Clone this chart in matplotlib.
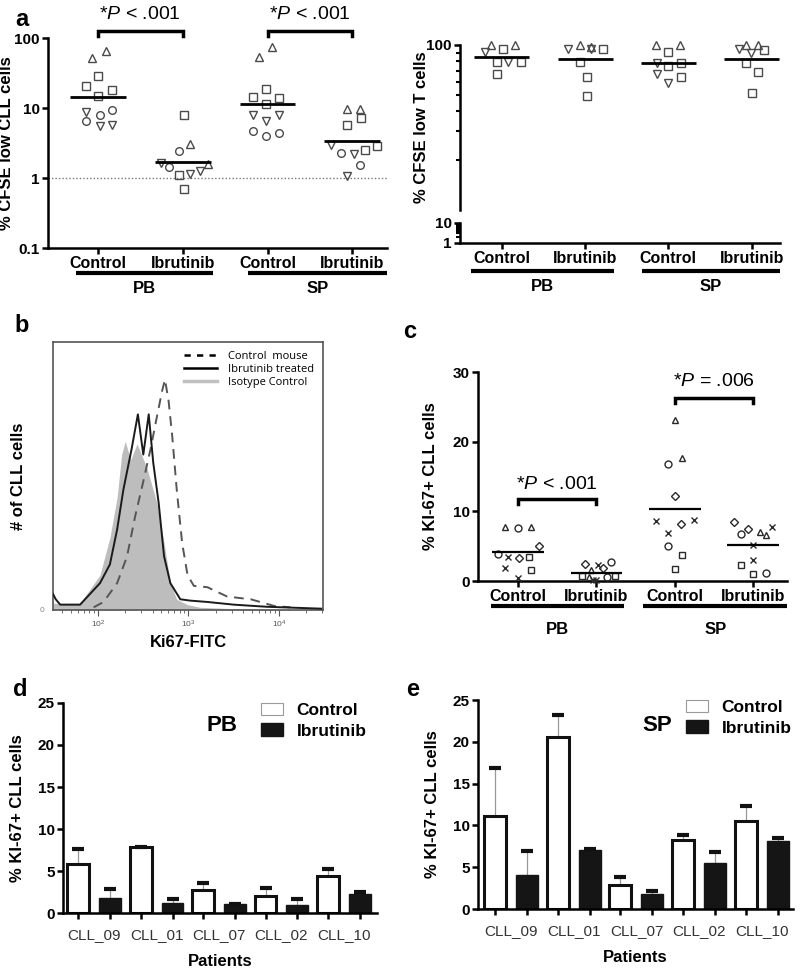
"""
Ibrutinib / CLL proliferation figure: panels a-e
"""

import matplotlib
matplotlib.use('Agg')
import matplotlib.pyplot as plt
import matplotlib.transforms as mtransforms
from matplotlib.patches import Patch
from matplotlib.lines import Line2D
import numpy as np

plt.rcParams['font.family'] = ['Liberation Sans', 'DejaVu Sans']
plt.rcParams['mathtext.fontset'] = 'custom'
plt.rcParams['mathtext.it'] = 'Liberation Sans:italic'
plt.rcParams['mathtext.rm'] = 'Liberation Sans'

W, H = 800, 971

# ---------------- data ----------------
categories = ['Control', 'Ibrutinib', 'Control', 'Ibrutinib']
tissues = ['PB', 'SP']

# panel a, CLL cells (% CFSE low); shape code = patient symbol
cll_vals = [
    [51.8, 64.5, 28.3, 20.8, 17.9, 15.0, 8.7, 9.5, 8.0, 6.5, 5.6, 5.75],
    [7.9, 3.1, 2.4, 1.64, 1.44, 1.58, 1.12, 1.15, 1.24, 0.70],
    [53.5, 74.0, 18.7, 14.4, 13.9, 11.5, 8.0, 8.0, 6.5, 4.7, 4.4, 3.94],
    [9.8, 9.8, 7.2, 5.8, 3.0, 2.9, 2.5, 2.3, 2.2, 1.52, 1.06],
]
cll_shapes = [
    ['tu', 'tu', 'sq', 'sq', 'sq', 'sq', 'td', 'ci', 'ci', 'ci', 'td', 'td'],
    ['sq', 'tu', 'ci', 'td', 'ci', 'tu', 'sq', 'td', 'td', 'sq'],
    ['tu', 'tu', 'sq', 'sq', 'sq', 'sq', 'td', 'td', 'td', 'ci', 'ci', 'ci'],
    ['tu', 'tu', 'sq', 'sq', 'td', 'sq', 'sq', 'ci', 'td', 'ci', 'td'],
]
cll_jitter = [
    [-0.07, 0.09, 0.0, -0.14, 0.17, 0.0, -0.14, 0.17, 0.02, -0.14, 0.02, 0.17],
    [0.01, 0.09, -0.05, -0.26, -0.16, 0.30, -0.04, 0.08, 0.20, 0.02],
    [-0.10, 0.05, -0.02, -0.17, 0.13, -0.02, -0.17, 0.13, -0.02, -0.17, 0.13, -0.02],
    [-0.06, 0.09, 0.10, -0.06, -0.25, 0.29, 0.15, -0.13, 0.02, 0.09, -0.06],
]
cll_means = [14.2, 1.69, 11.4, 3.4]

# panel a, T cells (% CFSE low)
t_vals = [
    [100, 100, 90.3, 94, 79, 78.6, 79, 66.4],
    [94.6, 100, 97.5, 95, 94, 79, 63.7, 49.1],
    [100, 100, 91, 77.5, 74.6, 78, 66.7, 59.1, 63.7],
    [94.6, 100, 100, 89, 93.3, 78, 68.3, 51.4],
]
t_shapes = [
    ['tu', 'tu', 'td', 'sq', 'sq', 'td', 'sq', 'sq'],
    ['td', 'tu', 'tu', 'td', 'sq', 'sq', 'sq', 'sq'],
    ['tu', 'tu', 'sq', 'td', 'sq', 'sq', 'td', 'td', 'sq'],
    ['td', 'tu', 'tu', 'td', 'sq', 'sq', 'sq', 'sq'],
]
t_jitter = [
    [-0.13, 0.16, -0.20, 0.02, -0.06, 0.08, 0.23, -0.06],
    [-0.20, -0.06, 0.07, 0.07, 0.22, -0.06, 0.02, 0.02],
    [-0.15, 0.14, 0.0, -0.14, 0.0, 0.15, -0.14, 0.0, 0.15],
    [-0.15, -0.07, 0.07, -0.01, 0.15, -0.07, 0.08, 0.0],
]
t_means = [85, 82, 78, 82]

# panel b, Ki67-FITC histograms (log10 intensity, % of max)
iso_x = [1.50, 1.80, 2.02, 2.13, 2.21, 2.26, 2.30, 2.36, 2.43, 2.54, 2.65, 2.73, 2.80, 2.87, 2.99, 3.13, 3.50, 4.49]
iso_y = [2.5, 2.5, 13, 27, 42, 58, 63, 56, 62, 53, 40, 25, 10, 4, 2, 1, 0.5, 0]
ibr_x = [1.50, 1.53, 1.58, 1.80, 1.91, 2.02, 2.13, 2.21, 2.28, 2.37, 2.44, 2.50, 2.56, 2.61, 2.67,
         2.73, 2.80, 2.91, 3.02, 3.21, 3.50, 3.87, 4.47]
ibr_y = [6, 4, 2, 2, 6, 10, 17, 30, 45, 60, 73, 58, 73, 55, 40, 20, 10, 4, 3.5, 3, 2, 1.2, 0.5]
ctl_x = [1.95, 2.06, 2.21, 2.32, 2.41, 2.50, 2.58, 2.65, 2.71, 2.74, 2.78, 2.82, 2.87, 2.93, 2.99,
         3.06, 3.21, 3.43, 3.69, 3.95, 4.13]
ctl_y = [1, 3, 10, 20, 35, 48, 60, 72, 82, 86, 78, 65, 45, 25, 13, 9, 8.5, 5, 4, 1.5, 1]

# panel c, % KI-67+ CLL cells
ki_vals = [
    [7.7, 7.6, 7.7, 5.05, 3.86, 3.5, 3.3, 3.5, 1.8, 1.57, 0.48],
    [2.4, 2.3, 1.8, 2.7, 1.6, 0.7, 0.6, 0.1, 0.6, 0.7, 0.2],
    [23.1, 17.7, 16.8, 12.2, 8.6, 8.8, 8.2, 6.9, 5.05, 3.7, 1.7],
    [8.4, 7.4, 6.8, 7.05, 6.6, 7.7, 5.2, 3.0, 2.3, 1.0, 1.1],
]
ki_shapes = [
    ['tu', 'ci', 'tu', 'di', 'ci', 'x', 'di', 'sq', 'x', 'sq', 'x'],
    ['di', 'x', 'di', 'ci', 'tu', 'sq', 'tu', 'x', 'ci', 'sq', 'x'],
    ['tu', 'tu', 'ci', 'di', 'x', 'x', 'di', 'x', 'ci', 'sq', 'sq'],
    ['di', 'di', 'ci', 'tu', 'tu', 'x', 'x', 'x', 'sq', 'sq', 'ci'],
]
ki_jitter = [
    [-0.16, 0.0, 0.16, 0.27, -0.26, -0.13, 0.01, 0.14, -0.16, 0.16, 0.0],
    [-0.15, 0.02, 0.09, 0.18, -0.07, -0.19, -0.10, 0.0, 0.14, 0.24, -0.05],
    [0.0, 0.09, -0.09, 0.0, -0.24, 0.24, 0.08, -0.09, -0.09, 0.09, 0.0],
    [-0.24, -0.07, -0.16, 0.08, 0.16, 0.24, 0.0, 0.0, -0.16, 0.0, 0.16],
]
ki_means = [4.1, 1.2, 10.3, 5.14]

# panels d / e, per patient bars (mean and upper error)
patients = ['CLL_09', 'CLL_01', 'CLL_07', 'CLL_02', 'CLL_10']
pb_ctrl = [5.87, 7.86, 2.7, 2.02, 4.37]
pb_ctrl_err = [1.8, 0.0, 0.9, 0.9, 0.83]
pb_ibr = [1.83, 1.23, 1.03, 0.91, 2.22]
pb_ibr_err = [1.07, 0.47, 0.05, 0.72, 0.28]
sp_ctrl = [11.07, 20.6, 2.83, 8.3, 10.5]
sp_ctrl_err = [5.8, 2.6, 0.97, 0.5, 1.85]
sp_ibr = [4.1, 7.1, 1.8, 5.5, 8.1]
sp_ibr_err = [2.8, 0.1, 0.4, 1.3, 0.4]

MARK = {'tu': '^', 'td': 'v', 'sq': 's', 'ci': 'o', 'di': 'D', 'x': 'x'}


def box(x0, y0, x1, y1):
    """pixel box -> figure fraction rect"""
    return [x0 / W, 1 - y1 / H, (x1 - x0) / W, (y1 - y0) / H]


def style_axes(ax, lw=1.8):
    for s in ['top', 'right']:
        ax.spines[s].set_visible(False)
    for s in ['left', 'bottom']:
        ax.spines[s].set_linewidth(lw)
    ax.tick_params(width=lw, length=4, labelsize=11, pad=2)


def bold_ticks(ax, xsize=11.5):
    plt.setp(ax.get_yticklabels(), fontweight='bold')
    plt.setp(ax.get_xticklabels(), fontweight='bold', fontsize=xsize)


def dots(ax, vals, shapes, jitter, means, ms, ec, half, mlw):
    for i in range(len(vals)):
        for v, s, j in zip(vals[i], shapes[i], jitter[i]):
            m = MARK[s]
            ax.plot(i + 1 + j, v, ls='none', marker=m,
                    ms=ms * (0.8 if m == 'D' else 1.0),
                    mfc='none', mec=ec, mew=1.0, clip_on=False, zorder=3)
        ax.plot([i + 1 - half, i + 1 + half], [means[i]] * 2, color='black',
                lw=mlw, zorder=4, solid_capstyle='butt')


def group_bars(fig, ax, y_line, y_text, x_ranges, lw=3.0, fs=12):
    trans = mtransforms.blended_transform_factory(ax.transData, fig.transFigure)
    for (x0, x1), name in zip(x_ranges, tissues):
        ax.plot([x0, x1], [1 - y_line / H] * 2, color='black', lw=lw,
                transform=trans, clip_on=False, solid_capstyle='butt')
        ax.text((x0 + x1) / 2, 1 - y_text / H, name, transform=trans,
                ha='center', va='center', fontsize=fs, fontweight='bold')


def bracket(ax, x0, x1, y, drop, text, ty, lw=2.5, fs=14, trans=None):
    trans = trans or ax.transData
    ax.plot([x0, x0, x1, x1], [y - drop, y, y, y - drop], color='black', lw=lw,
            transform=trans, clip_on=False, solid_joinstyle='miter')
    ax.text((x0 + x1) / 2, ty, text, transform=trans, ha='center',
            va='center', fontsize=fs)


fig = plt.figure(figsize=(W / 100, H / 100), dpi=100)

# ===== a: CLL cells =====
ax = fig.add_axes(box(48, 38, 387, 248))
style_axes(ax)
ax.set_yscale('log')
ax.set_ylim(0.1, 100)
ax.set_xlim(0.41, 4.41)
ax.set_yticks([0.1, 1, 10, 100])
ax.set_yticklabels(['0.1', '1', '10', '100'])
ax.yaxis.set_minor_locator(matplotlib.ticker.NullLocator())
ax.set_xticks([1, 2, 3, 4])
ax.set_xticklabels(categories)
bold_ticks(ax)
ax.axhline(1, color='#777777', lw=1.0, ls=(0, (1, 1.5)))
dots(ax, cll_vals, cll_shapes, cll_jitter, cll_means, 5.5, '#4a4a4a', 0.33, 2.0)
ax.set_ylabel('% CFSE low CLL cells', fontsize=12, fontweight='bold')
ax.yaxis.set_label_coords(-0.1, 0.5)
group_bars(fig, ax, 273, 288, [(0.74, 2.36), (2.77, 4.41)])
btr = mtransforms.blended_transform_factory(ax.transData, ax.transAxes)
bracket(ax, 1, 2, 1.031, 0.02, r'*$\mathit{P}$ < .001', 1.11, trans=btr)
bracket(ax, 3, 4, 1.031, 0.02, r'*$\mathit{P}$ < .001', 1.11, trans=btr)
fig.text(22 / W, 1 - 20 / H, 'a', fontsize=17, fontweight='bold', ha='center', va='center')

# ===== a: T cells (broken log axis) =====
axt = fig.add_axes(box(460, 45, 780, 210))
axb = fig.add_axes(box(460, 223, 780, 243), sharex=axt)
for a in (axt, axb):
    style_axes(a)
    a.set_yscale('log')
axt.set_ylim(10, 100)
axb.set_ylim(1, 10)
axt.set_xlim(0.5, 4.34)
axt.spines['bottom'].set_visible(False)
axt.tick_params(axis='x', bottom=False, labelbottom=False)
axt.set_yticks([100])
axt.set_yticklabels(['100'])
axt.yaxis.set_minor_formatter(matplotlib.ticker.NullFormatter())
axt.tick_params(axis='y', which='minor', length=3, width=1.5)
axb.set_yticks([1, 10])
axb.set_yticklabels(['1', '10'])
axb.yaxis.set_minor_formatter(matplotlib.ticker.NullFormatter())
axb.tick_params(axis='y', which='minor', length=3, width=1.5)
axb.set_xticks([1, 2, 3, 4])
axb.set_xticklabels(categories)
bold_ticks(axt)
bold_ticks(axb)
dots(axt, t_vals, t_shapes, t_jitter, t_means, 5.5, '#4a4a4a', 0.33, 2.0)
group_bars(fig, axb, 271, 286, [(0.63, 2.35), (2.68, 4.34)])
fig.text(422 / W, 1 - 127 / H, '% CFSE low T cells', rotation=90, fontsize=12,
         fontweight='bold', ha='center', va='center')

# ===== b: histogram =====
axh = fig.add_axes(box(53, 342, 323, 610))
axh.set_xscale('log')
axh.set_xlim(10 ** 1.5, 10 ** 4.49)
axh.set_ylim(0, 100)
for s in axh.spines.values():
    s.set_color('#555555')
    s.set_linewidth(1.2)
axh.fill_between(10 ** np.array(iso_x), iso_y, color='#bdbdbd', lw=0, zorder=1)
axh.plot(10 ** np.array(ibr_x), ibr_y, color='#1a1a1a', lw=1.4, zorder=3)
axh.plot(10 ** np.array(ctl_x), ctl_y, color='#555555', lw=1.4, ls=(0, (5, 3.5)), zorder=2)
axh.set_xticks([1e2, 1e3, 1e4])
axh.set_xticklabels(['$10^2$', '$10^3$', '$10^4$'])
axh.tick_params(axis='x', which='major', length=4, labelsize=6, colors='#555555', pad=2)
axh.tick_params(axis='x', which='minor', length=2.5, color='#555555')
axh.set_yticks([0])
axh.set_yticklabels(['0'])
axh.tick_params(axis='y', length=0, labelsize=6, colors='#888888', pad=6)
axh.set_xlabel('Ki67-FITC', fontsize=12, fontweight='bold')
axh.xaxis.set_label_coords(0.5, -0.095)
axh.set_ylabel('# of CLL cells', fontsize=12, fontweight='bold')
axh.yaxis.set_label_coords(-0.1, 0.5)
leg_handles = [
    Line2D([], [], color='black', lw=1.8, ls=(0, (2.5, 2.5))),
    Line2D([], [], color='black', lw=1.8),
    Line2D([], [], color='#c0c0c0', lw=2.5),
]
axh.legend(leg_handles, ['Control  mouse', 'Ibrutinib treated', 'Isotype Control'],
           loc='upper right', frameon=False, handlelength=3.0, handletextpad=1.0,
           labelspacing=0.2, borderaxespad=0.4,
           prop={'family': 'Open Sans', 'size': 8})
fig.text(22 / W, 1 - 325 / H, 'b', fontsize=17, fontweight='bold', ha='center', va='center')

# ===== c: Ki-67 dot plot =====
axc = fig.add_axes(box(478, 372, 787, 581))
style_axes(axc)
axc.set_ylim(0, 30)
axc.set_xlim(0.49, 4.43)
axc.set_yticks([0, 10, 20, 30])
axc.set_xticks([1, 2, 3, 4])
axc.set_xticklabels(categories)
bold_ticks(axc)
dots(axc, ki_vals, ki_shapes, ki_jitter, ki_means, 5.0, '#2a2a2a', 0.33, 1.6)
axc.set_ylabel('% KI-67+ CLL cells', fontsize=12, fontweight='bold')
axc.yaxis.set_label_coords(-0.13, 0.5)
group_bars(fig, axc, 606, 630, [(0.65, 2.35), (2.6, 4.43)])
bracket(axc, 1, 2, 11.8, 0.75, r'*$\mathit{P}$ < .001', 13.9)
bracket(axc, 3, 4, 26.3, 0.8, r'*$\mathit{P}$ = .006', 28.6)
fig.text(410 / W, 1 - 332 / H, 'c', fontsize=17, fontweight='bold', ha='center', va='center')


# ===== d / e: bar charts =====
def bar_panel(rect, ctrl, ctrl_err, ibr, ibr_err, xlim, tag, tag_xy, leg_xy, ylab_x):
    axp = fig.add_axes(rect)
    style_axes(axp)
    idx = np.arange(len(patients))
    off, wd = 0.255, 0.35
    xc, xi = idx - off, idx + off
    axp.vlines(xc, ctrl, np.array(ctrl) + np.array(ctrl_err), color='#999999', lw=0.9, zorder=1)
    axp.vlines(xi, ibr, np.array(ibr) + np.array(ibr_err), color='#999999', lw=0.9, zorder=1)
    axp.bar(xc, ctrl, wd, color='white', edgecolor='#111111', lw=2.2, zorder=2)
    axp.bar(xi, ibr, wd, color='#151515', edgecolor='#151515', lw=1.0, zorder=2)
    axp.plot(xc, np.array(ctrl) + np.array(ctrl_err), ls='none', marker='_', ms=9, mew=3,
             color='#111111', zorder=3)
    axp.plot(xi, np.array(ibr) + np.array(ibr_err), ls='none', marker='_', ms=9, mew=3,
             color='#111111', zorder=3)
    axp.set_ylim(0, 25)
    axp.set_xlim(*xlim)
    axp.set_yticks([0, 5, 10, 15, 20, 25])
    plt.setp(axp.get_yticklabels(), fontweight='bold')
    axp.set_xticks(idx)
    axp.set_xticklabels(patients)
    axp.set_xticks(np.concatenate([xc, xi]), minor=True)
    axp.tick_params(axis='x', which='major', length=0, pad=11, labelsize=11, labelcolor='#333333')
    axp.tick_params(axis='x', which='minor', length=4, width=1.8)
    axp.set_xlabel('Patients', fontsize=12, fontweight='bold')
    axp.xaxis.set_label_coords(0.5, -0.195)
    axp.set_ylabel('% KI-67+ CLL cells', fontsize=12, fontweight='bold')
    axp.yaxis.set_label_coords(ylab_x, 0.5)
    axp.text(tag_xy[0], tag_xy[1], tag, transform=axp.transAxes, fontsize=16,
             fontweight='bold', ha='center', va='center')
    handles = [Patch(facecolor='white', edgecolor='#9a9a9a', lw=0.8),
               Patch(facecolor='#151515', edgecolor='#151515')]
    axp.legend(handles, ['Control', 'Ibrutinib'], loc='upper left', bbox_to_anchor=leg_xy,
               frameon=False, handlelength=1.25, handleheight=0.7, handletextpad=0.8,
               labelspacing=0.3, borderpad=0, borderaxespad=0,
               prop={'size': 12.5, 'weight': 'bold'})
    return axp


bar_panel(box(63, 703, 377, 913), pb_ctrl, pb_ctrl_err, pb_ibr, pb_ibr_err,
          (-0.5, 4.53), 'PB', (0.506, 0.895), (0.63, 1.0), -0.12)
fig.text(20 / W, 1 - 690 / H, 'd', fontsize=17, fontweight='bold', ha='center', va='center')

bar_panel(box(478, 700, 793, 909), sp_ctrl, sp_ctrl_err, sp_ibr, sp_ibr_err,
          (-0.52, 4.49), 'SP', (0.568, 0.88), (0.66, 1.0), -0.12)
fig.text(413 / W, 1 - 690 / H, 'e', fontsize=17, fontweight='bold', ha='center', va='center')

plt.savefig('out.png', dpi=100)
plt.close()
